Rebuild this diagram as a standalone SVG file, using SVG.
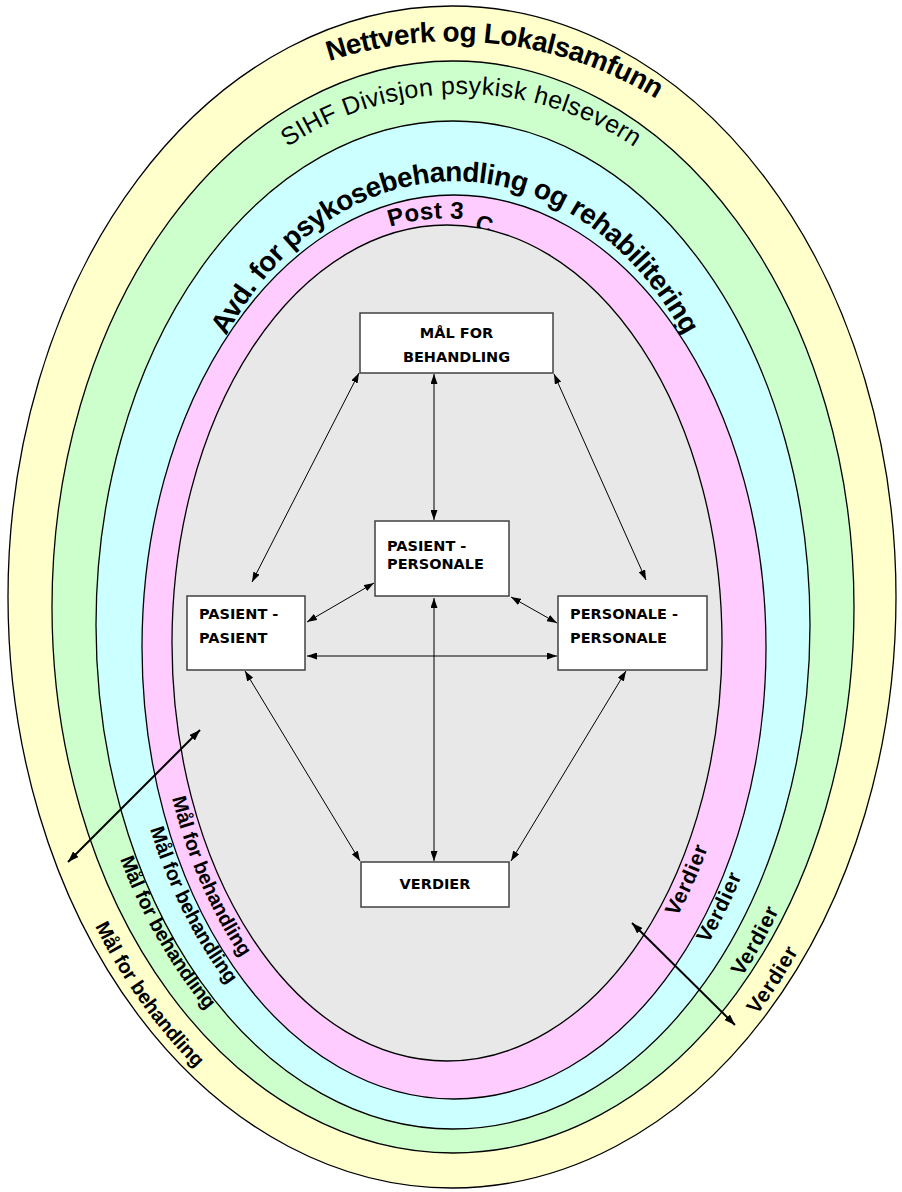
<svg xmlns="http://www.w3.org/2000/svg" width="902" height="1192" viewBox="0 0 902 1192">
<style>
.ring{stroke:#000;stroke-width:1.3}
.arc{font-family:"Liberation Sans",Arial,sans-serif;font-weight:bold;fill:#000}
.box{fill:#fff;stroke:#404040;stroke-width:1.5}
.lbl{font-family:"DejaVu Sans",Verdana,sans-serif;font-weight:bold;font-size:14.5px;fill:#000}
.con{stroke:#000;stroke-width:1;fill:none;marker-start:url(#ah);marker-end:url(#ah)}
.big{stroke:#000;stroke-width:2;fill:none;marker-start:url(#ah2);marker-end:url(#ah2)}
</style>
<defs>
<marker id="ah" viewBox="0 0 10 7" refX="10" refY="3.5" markerWidth="10" markerHeight="7" markerUnits="userSpaceOnUse" orient="auto-start-reverse"><path d="M0,0 L10,3.5 L0,7 z" fill="#000"/></marker>
<marker id="ah2" viewBox="0 0 10 7" refX="10" refY="3.5" markerWidth="11" markerHeight="8" markerUnits="userSpaceOnUse" orient="auto-start-reverse"><path d="M0,0 L10,3.5 L0,7 z" fill="#000"/></marker>
<path id="pNett" d="M65.9 365.9 A392 392 0 0 1 843.4 455.9"/>
<path id="pSihf" d="M155.7 350.2 A310 310 0 0 1 766.3 350.2"/>
<path id="pAvd" d="M179.3 482.6 A280 365 0 0 1 730.7 482.6"/>
<path id="pPost" d="M390 227 A180 180 0 0 1 560.7 260.5"/>
<path id="mPink" d="M172 798 A297 440 0 0 0 450.5 1085"/>
<path id="mCyan" d="M150 829 A332.2 474.7 0 0 0 453.5 1110.7"/>
<path id="mGreen" d="M120 859 A376.4 521.4 0 0 0 453 1137.4"/>
<path id="mYellow" d="M95 926 A431 580 0 0 0 452.5 1182"/>
<path id="vPink" d="M677 917 A291.5 432 0 0 0 702.9 429"/>
<path id="vCyan" d="M708 944 A333.5 476.6 0 0 0 742.3 397.7"/>
<path id="vGreen" d="M742 977 A389.1 539 0 0 0 790 346.5"/>
<path id="vYellow" d="M757 1015 A432.3 581.8 0 0 0 826.9 311.1"/>
</defs>
<g id="ring-nettverk">
<ellipse class="ring" cx="452" cy="597" rx="444" ry="591" fill="#FFFFCC"/>
<text class="arc" font-size="28"><textPath href="#pNett" startOffset="50%" text-anchor="middle" textLength="340">Nettverk og Lokalsamfunn</textPath></text>
<text class="arc" font-size="20"><textPath href="#mYellow" textLength="175">Mål for behandling</textPath></text>
<text class="arc" font-size="21"><textPath href="#vYellow" textLength="76">Verdier</textPath></text>
</g>
<g id="ring-sihf">
<ellipse class="ring" cx="453" cy="607" rx="401" ry="546" fill="#CCFFCC"/>
<text class="arc" font-size="25" style="font-weight:normal"><textPath href="#pSihf" startOffset="50%" text-anchor="middle" textLength="368">SIHF Divisjon psykisk helsevern</textPath></text>
<text class="arc" font-size="20"><textPath href="#mGreen" textLength="175">Mål for behandling</textPath></text>
<text class="arc" font-size="21"><textPath href="#vGreen" textLength="76">Verdier</textPath></text>
</g>
<g id="ring-avd">
<ellipse class="ring" cx="453" cy="625" rx="357" ry="504" fill="#CCFFFF"/>
<text class="arc" font-size="28"><textPath href="#pAvd" startOffset="50%" text-anchor="middle" textLength="580">Avd. for psykosebehandling og rehabilitering</textPath></text>
<text class="arc" font-size="20"><textPath href="#mCyan" textLength="175">Mål for behandling</textPath></text>
<text class="arc" font-size="21"><textPath href="#vCyan" textLength="76">Verdier</textPath></text>
</g>
<g id="ring-post">
<ellipse class="ring" cx="454" cy="647" rx="312" ry="452" fill="#FFCCFF"/>
<text class="arc" font-size="24"><textPath href="#pPost" textLength="74">Post 3</textPath></text>
<text class="arc" font-size="23" transform="translate(474 229) rotate(18)">C</text>
<text class="arc" font-size="20"><textPath href="#mPink" textLength="175">Mål for behandling</textPath></text>
<text class="arc" font-size="21"><textPath href="#vPink" textLength="76">Verdier</textPath></text>
</g>
<g id="core">
<ellipse class="ring" cx="447" cy="643" rx="275" ry="418" fill="#E8E8E8"/>
</g>
<g id="connectors">
<line class="con" x1="359" y1="373" x2="252" y2="582"/>
<line class="con" x1="434" y1="374" x2="434" y2="520"/>
<line class="con" x1="554" y1="374" x2="646" y2="580"/>
<line class="con" x1="374" y1="583" x2="307" y2="622"/>
<line class="con" x1="511" y1="597" x2="557" y2="623"/>
<line class="con" x1="307" y1="656" x2="557" y2="656"/>
<line class="con" x1="434" y1="598" x2="434" y2="861"/>
<line class="con" x1="245" y1="671" x2="360" y2="861"/>
<line class="con" x1="626" y1="671" x2="511" y2="861"/>
<line class="big" x1="68" y1="862" x2="200" y2="730"/>
<line class="big" x1="632" y1="923" x2="735" y2="1025"/>
</g>
<g id="node-maal">
<rect class="box" x="360" y="313" width="193" height="60"/>
<text class="lbl" x="456.5" y="338" text-anchor="middle">MÅL FOR</text>
<text class="lbl" x="456.5" y="362" text-anchor="middle">BEHANDLING</text>
</g>
<g id="node-pasient-personale">
<rect class="box" x="375" y="521" width="134" height="75"/>
<text class="lbl" x="387" y="551">PASIENT -</text>
<text class="lbl" x="387" y="569">PERSONALE</text>
</g>
<g id="node-pasient-pasient">
<rect class="box" x="187" y="596" width="118" height="74"/>
<text class="lbl" x="199" y="619">PASIENT -</text>
<text class="lbl" x="199" y="643">PASIENT</text>
</g>
<g id="node-personale-personale">
<rect class="box" x="558" y="596" width="149" height="74"/>
<text class="lbl" x="570" y="619">PERSONALE -</text>
<text class="lbl" x="570" y="643">PERSONALE</text>
</g>
<g id="node-verdier">
<rect class="box" x="361" y="862" width="148" height="45"/>
<text class="lbl" x="435" y="889" text-anchor="middle">VERDIER</text>
</g>
</svg>
